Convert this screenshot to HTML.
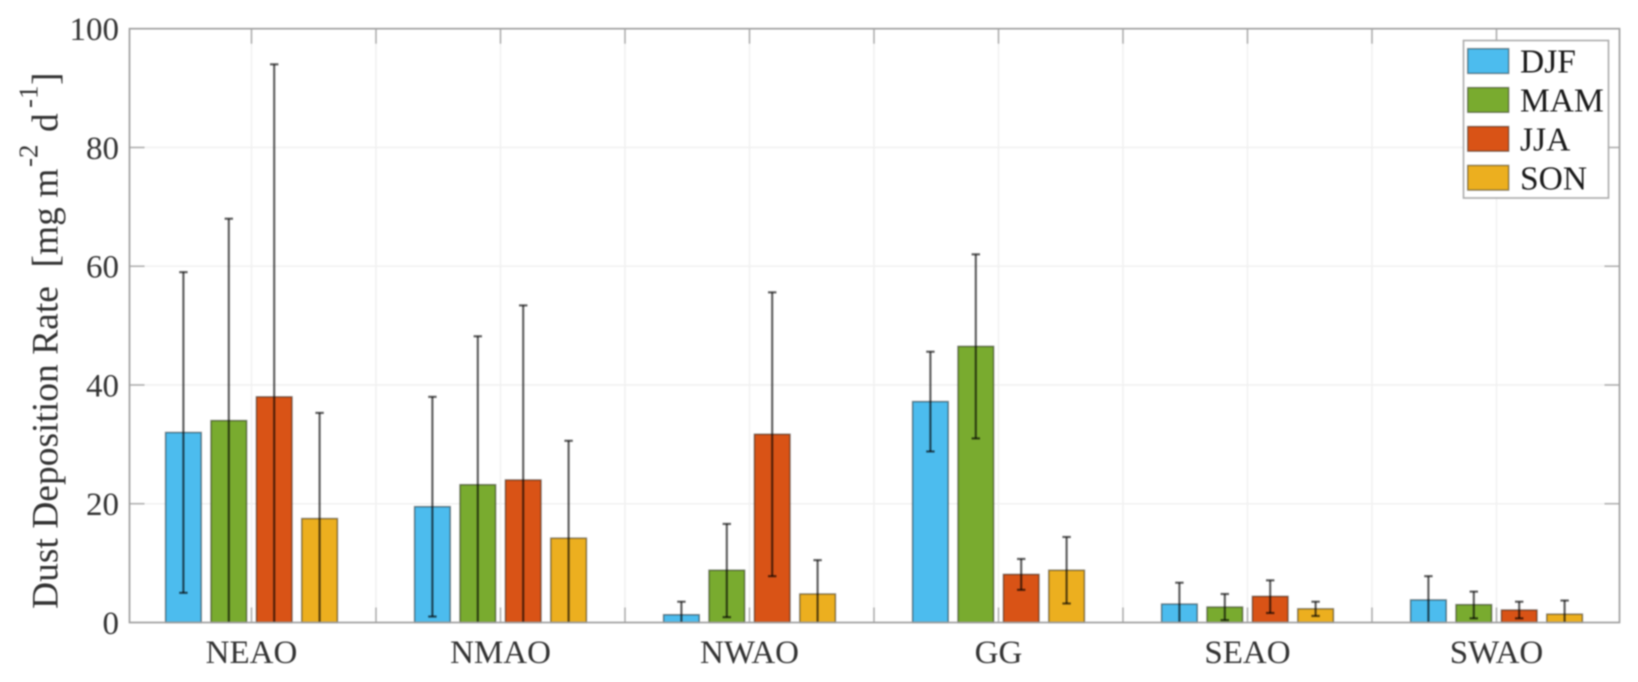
<!DOCTYPE html>
<html lang="en">
<head>
<meta charset="utf-8">
<title>Dust Deposition Rate</title>
<style>
html,body{margin:0;padding:0;background:#fff;width:1638px;height:682px;overflow:hidden}
svg{display:block;filter:blur(0.7px)}
text{font-family:"Liberation Serif",serif}
</style>
</head>
<body>
<svg id="chart" xmlns="http://www.w3.org/2000/svg" width="1638" height="682" viewBox="0 0 1638 682">
  <rect x="129.5" y="28.7" width="1490" height="593.8" fill="#fff"/>
  <g id="grid"></g>
  <g id="ticks"></g>
  <g id="bars"></g>
  <g id="errs"></g>
  <rect x="129.5" y="28.7" width="1490" height="593.8" fill="none" stroke="#a0a0a0" stroke-width="1.7"/>
  <g id="ylabels"></g>
  <g id="xlabels"></g>
  <text transform="translate(57.5,609) rotate(-90)" font-size="37.5" fill="#333"><tspan x="0" y="0">Dust Deposition Rate</tspan><tspan x="341.5" y="0">[mg m</tspan><tspan x="442" y="-20" font-size="27">-2</tspan><tspan x="477" y="0">d</tspan><tspan x="501" y="-20" font-size="27">-1</tspan><tspan x="524" y="0">]</tspan></text>
  <g>
    <rect x="1463.5" y="40.5" width="145" height="157.5" fill="#fff" stroke="#ababab" stroke-width="1.6"/>
    <g id="legend-items"></g>
  </g>
</svg>
<script>
const categories = ["NEAO", "NMAO", "NWAO", "GG", "SEAO", "SWAO"];
const seasons = ["DJF", "MAM", "JJA", "SON"];
const seasonColors = ["#4cbcee", "#79ab2f", "#d95316", "#ecaf1f"];
const djf = [32, 19.5, 1.3, 37.2, 3.1, 3.8];
const mam = [34, 23.2, 8.8, 46.5, 2.6, 3];
const jja = [38, 24, 31.7, 8.1, 4.4, 2.1];
const son = [17.5, 14.2, 4.8, 8.8, 2.3, 1.4];
const djfHigh = [59, 38, 3.5, 45.6, 6.7, 7.8];
const mamHigh = [68, 48.2, 16.6, 62, 4.8, 5.2];
const jjaHigh = [94, 53.4, 55.6, 10.7, 7.1, 3.5];
const sonHigh = [35.3, 30.6, 10.5, 14.4, 3.5, 3.7];
const djfLow = [5, 1, 0, 28.8, 0, 0];
const mamLow = [0, 0, 0.9, 31, 0.4, 0.7];
const jjaLow = [0, 0, 7.8, 5.5, 1.6, 0.7];
const sonLow = [0, 0, 0, 3.2, 1.1, 0];
const yTicks = [0, 20, 40, 60, 80, 100];

const seriesValues = [djf, mam, jja, son];
const seriesHigh = [djfHigh, mamHigh, jjaHigh, sonHigh];
const seriesLow = [djfLow, mamLow, jjaLow, sonLow];

const NS = "http://www.w3.org/2000/svg";
const plotLeft = 129.5, plotRight = 1619.5, plotTop = 28.7, plotBottom = 622.5;
const yMax = 100;
const groupStep = 249;
const firstCenter = 251.5;
const barStep = 45.4;
const barWidth = 35.6;
const capHalf = 4.2;

function yScale(v) { return plotBottom - (v / yMax) * (plotBottom - plotTop); }
function xCenter(i) { return firstCenter + groupStep * i; }
function xBar(i, s) { return xCenter(i) + (s - 1.5) * barStep; }
function make(tag, attrs, parent) {
  const el = document.createElementNS(NS, tag);
  for (const k in attrs) el.setAttribute(k, attrs[k]);
  parent.appendChild(el);
  return el;
}

const gridG = document.getElementById("grid");
const ticksG = document.getElementById("ticks");
const barsG = document.getElementById("bars");
const errsG = document.getElementById("errs");
const ylabG = document.getElementById("ylabels");
const xlabG = document.getElementById("xlabels");
const legG = document.getElementById("legend-items");

const gridStyle = { stroke: "#f1f1f1", "stroke-width": 1.6 };
const tickStyle = { stroke: "#b0b0b0", "stroke-width": 1.6 };

yTicks.forEach(function (t) {
  const y = yScale(t);
  if (t > 0 && t < yMax) {
    const g = make("line", Object.assign({ x1: plotLeft, x2: plotRight, y1: y, y2: y }, gridStyle), gridG);
    
    
    const a = make("line", Object.assign({ x1: plotLeft, x2: plotLeft + 15, y1: y, y2: y }, tickStyle), ticksG);
    
    
    const b = make("line", Object.assign({ x1: plotRight - 15, x2: plotRight, y1: y, y2: y }, tickStyle), ticksG);
    
    
  }
  const lab = make("text", { x: 119, y: y + 11.5, "text-anchor": "end", "font-size": 33, fill: "#333" }, ylabG);
  
  
  lab.textContent = t;
});

for (let k = 0; k < categories.length * 2; k++) {
  const x = xCenter(0) + k * groupStep / 2;
  if (x >= plotRight - 2) continue;
  const g = make("line", Object.assign({ x1: x, x2: x, y1: plotTop, y2: plotBottom }, gridStyle), gridG);
  
  
  const a = make("line", Object.assign({ x1: x, x2: x, y1: plotBottom - 15, y2: plotBottom }, tickStyle), ticksG);
  
  
  const b = make("line", Object.assign({ x1: x, x2: x, y1: plotTop, y2: plotTop + 15 }, tickStyle), ticksG);
  
  
}

categories.forEach(function (c, i) {
  const lab = make("text", { x: xCenter(i), y: 663, "text-anchor": "middle", "font-size": 33, fill: "#333" }, xlabG);
  
  
  lab.textContent = c;
  seriesValues.forEach(function (vals, s) {
    const x = xBar(i, s);
    const top = yScale(vals[i]);
    const r = make("rect", { x: x - barWidth / 2, y: top, width: barWidth, height: plotBottom - top, fill: seasonColors[s], stroke: "#000", "stroke-opacity": 0.42, "stroke-width": 1.6 }, barsG);
    
    
  });
});

categories.forEach(function (c, i) {
  seriesValues.forEach(function (vals, s) {
    const x = xBar(i, s);
    const hi = yScale(seriesHigh[s][i]);
    const lo = yScale(seriesLow[s][i]);
    const style = { stroke: "#000", "stroke-opacity": 0.62, "stroke-width": 2.2 };
    const v = make("line", Object.assign({ x1: x, x2: x, y1: hi, y2: lo }, style), errsG);
    
    
    const ct = make("line", Object.assign({ x1: x - capHalf, x2: x + capHalf, y1: hi, y2: hi }, style), errsG);
    
    
    if (seriesLow[s][i] > 0) {
      const cb = make("line", Object.assign({ x1: x - capHalf, x2: x + capHalf, y1: lo, y2: lo }, style), errsG);
      
      
    }
  });
});

seasons.forEach(function (name, s) {
  const rowY = 48.7 + s * 38.9;
  const sw = make("rect", { x: 1467.7, y: rowY, width: 41, height: 24.7, fill: seasonColors[s], stroke: "#000", "stroke-opacity": 0.4, "stroke-width": 1.5 }, legG);
  
  
  const t = make("text", { x: 1520, y: rowY + 24, "font-size": 33.5, fill: "#1a1a1a" }, legG);
  
  
  t.textContent = name;
});
</script>
</body>
</html>
